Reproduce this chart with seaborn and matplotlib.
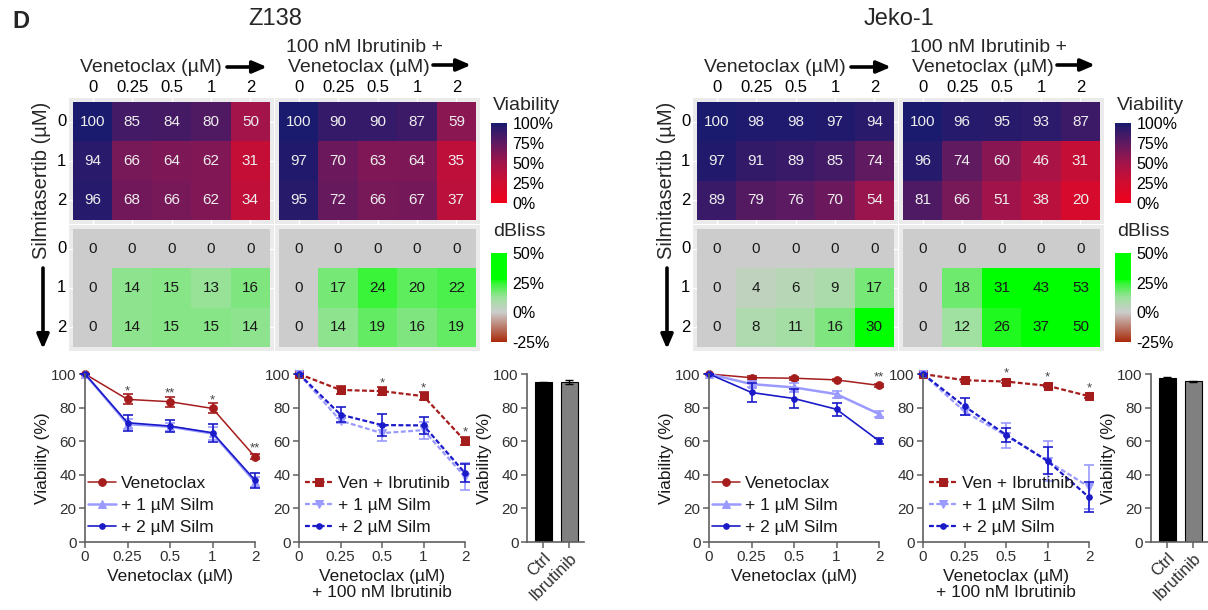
import numpy as np
import matplotlib
matplotlib.use('Agg')
import matplotlib.pyplot as plt
import seaborn as sns
from matplotlib.colors import LinearSegmentedColormap, Normalize
from matplotlib.cm import ScalarMappable

# concentrations and labels
conc_labels = ['0', '0.25', '0.5', '1', '2']
silm_labels = ['0', '1', '2']
bar_labels = ['Ctrl', 'Ibrutinib']

# heatmap values (viability % and delta Bliss %)
z138_via = [[100, 85, 84, 80, 50], [94, 66, 64, 62, 31], [96, 68, 66, 62, 34]]
z138_via_ibr = [[100, 90, 90, 87, 59], [97, 70, 63, 64, 35], [95, 72, 66, 67, 37]]
z138_bliss = [[0, 0, 0, 0, 0], [0, 14, 15, 13, 16], [0, 14, 15, 15, 14]]
z138_bliss_ibr = [[0, 0, 0, 0, 0], [0, 17, 24, 20, 22], [0, 14, 19, 16, 19]]

jeko_via = [[100, 98, 98, 97, 94], [97, 91, 89, 85, 74], [89, 79, 76, 70, 54]]
jeko_via_ibr = [[100, 96, 95, 93, 87], [96, 74, 60, 46, 31], [81, 66, 51, 38, 20]]
jeko_bliss = [[0, 0, 0, 0, 0], [0, 4, 6, 9, 17], [0, 8, 11, 16, 30]]
jeko_bliss_ibr = [[0, 0, 0, 0, 0], [0, 18, 31, 43, 53], [0, 12, 26, 37, 50]]

# dose response curves (mean, sem)
z138_ven = [100, 84.9, 83.5, 79.5, 50.7]
z138_ven_err = [0, 3, 3, 3, 1.5]
z138_ven_s1 = [100, 70.2, 68.6, 64.6, 35.8]
z138_ven_s1_err = [0, 3, 2.5, 4, 3]
z138_ven_s2 = [100, 71, 69, 65, 36.8]
z138_ven_s2_err = [0, 4.8, 3.5, 5.5, 4.5]
z138_ibr = [100, 90.5, 89.8, 86.8, 60.2]
z138_ibr_err = [0, 2.5, 2.5, 2.5, 2.5]
z138_ibr_s1 = [100, 72.2, 64.8, 66.6, 38.8]
z138_ibr_s1_err = [0, 1.5, 4.5, 5, 8]
z138_ibr_s2 = [100, 75.8, 69.6, 69.4, 41]
z138_ibr_s2_err = [0, 4.5, 6.5, 5, 5.5]

jeko_ven = [100, 97.8, 97.5, 96.5, 93.2]
jeko_ven_err = [0, 0.8, 0.8, 0.8, 0.8]
jeko_ven_s1 = [100, 94, 92, 88, 76.2]
jeko_ven_s1_err = [0, 2, 2.5, 2, 1.8]
jeko_ven_s2 = [100, 89, 85.4, 79, 60.2]
jeko_ven_s2_err = [0, 5.8, 5.8, 4, 1.8]
jeko_ibr = [100, 96.3, 95.5, 93, 86.8]
jeko_ibr_err = [0, 0.8, 1, 0.8, 0.8]
jeko_ibr_s1 = [100, 77.7, 63.3, 48.3, 32.8]
jeko_ibr_s1_err = [0, 2, 7.5, 12, 13]
jeko_ibr_s2 = [100, 80.8, 63.8, 48.3, 26.6]
jeko_ibr_s2_err = [0, 5, 4, 8, 9]

# significance marks (Ven alone vs combo)
z138_ven_stars = ['', '*', '**', '*', '**']
z138_ibr_stars = ['', '', '*', '*', '*']
jeko_ven_stars = ['', '', '', '', '**']
jeko_ibr_stars = ['', '', '*', '*', '*']

# single agent bars
z138_bar = [95, 95]
z138_bar_err = [0.4, 1.2]
jeko_bar = [97.8, 95.6]
jeko_bar_err = [0.4, 0.4]

sns.set_style('ticks')
plt.rcParams['font.family'] = ['Liberation Sans', 'DejaVu Sans']

W, H = 1208, 610
fig = plt.figure(figsize=(W / 100, H / 100), dpi=100)


def px_axes(x0, y0, x1, y1):
    return fig.add_axes([x0 / W, 1 - y1 / H, (x1 - x0) / W, (y1 - y0) / H])


via_cmap = LinearSegmentedColormap.from_list('via', [
    (0, '#f0001c'), (0.25, '#d00c30'), (0.5, '#a3144a'),
    (0.75, '#5e1a60'), (1, '#1a1a6e')])
bliss_cmap = LinearSegmentedColormap.from_list('bliss', [
    (0, '#a82a0a'), (25 / 75, '#cccccc'), (37 / 75, '#a0e0a0'),
    (50 / 75, '#33f533'), (53 / 75, '#00ff00'), (1, '#00ff00')])

RED = '#A51C1C'
LIGHT = '#9A9AFF'
BLUE = '#1A1AC8'
AXC = '#606060'
TXC = '#303030'
DASH = (0, (2.2, 1.1))


def heat(ax, data, cmap, vmin, vmax, txt, top, left):
    sns.heatmap(np.array(data, dtype=int), ax=ax, cmap=cmap, vmin=vmin, vmax=vmax,
                cbar=False, annot=True, fmt='d',
                annot_kws={'color': txt, 'fontsize': 11},
                xticklabels=conc_labels if top else False,
                yticklabels=silm_labels if left else False)
    ax.set_facecolor('#EBEBEB')
    ax.set_xlim(-0.1, 5.1)
    ax.set_ylim(3.1, -0.1)
    ax.set_axisbelow(True)
    ax.grid(True, color='white', lw=1)
    ax.xaxis.tick_top()
    ax.tick_params(axis='x', length=0, pad=2, labelsize=12, labelcolor='black', rotation=0)
    ax.tick_params(axis='y', length=0, pad=2, labelsize=12, labelcolor='black', rotation=0)
    ax.set_xlabel('')
    ax.set_ylabel('')


def cbar(x0, y0, x1, y1, cmap, vmin, vmax, ticks):
    cax = px_axes(x0, y0, x1, y1)
    cb = fig.colorbar(ScalarMappable(norm=Normalize(vmin, vmax), cmap=cmap), cax=cax)
    cb.outline.set_visible(False)
    cb.set_ticks(ticks)
    cb.set_ticklabels([f'{t}%' for t in ticks])
    cax.tick_params(direction='in', length=3, width=1, color='white', left=True, right=True,
                    labelsize=11.5, labelcolor='black', pad=4)


def style_axis(ax):
    sns.despine(ax=ax)
    for s in ['left', 'bottom']:
        ax.spines[s].set_color(AXC)
        ax.spines[s].set_linewidth(1.2)
    ax.tick_params(length=4, width=1.1, color=AXC, labelcolor=TXC, labelsize=11, pad=2)
    ax.set_ylim(0, 100)
    ax.set_yticks(range(0, 101, 20))


def dose_plot(ax, series, stars, xlabel, ylabel, leg_x):
    xpos = np.arange(len(conc_labels))
    for label, vals, err, col, mk, ms, ls, lw in series:
        sns.lineplot(x=xpos, y=vals, ax=ax, color=col, marker=mk, markersize=ms,
                     markeredgecolor=col, markerfacecolor=col, linestyle=ls, lw=lw,
                     label=label, errorbar=None, clip_on=False)
        ax.errorbar(xpos, vals, yerr=err, fmt='none', ecolor=col, elinewidth=1.2,
                    capsize=3.5, capthick=1.2, clip_on=False)
    ref = series[0][1]
    for xi, s in enumerate(stars):
        if s:
            ax.text(xi, ref[xi] + 3, s, ha='center', va='baseline', fontsize=9.5, color='#444444')
    style_axis(ax)
    ax.set_xlim(0, 4)
    ax.set_xticks(xpos)
    ax.set_xticklabels(conc_labels)
    ax.set_xlabel(xlabel, fontsize=12.5, color='#1a1a1a', labelpad=3, linespacing=1.1)
    ax.set_ylabel(ylabel, fontsize=12.5, color='#1a1a1a', labelpad=1)
    leg = ax.legend(loc='upper left', bbox_to_anchor=(leg_x, 0.395), frameon=False, fontsize=12.5,
                    handlelength=1.6, handletextpad=0.3, labelspacing=0.4,
                    borderpad=0, borderaxespad=0)
    for t in leg.get_texts():
        t.set_color('#1a1a1a')


def bar_plot(ax, vals, err):
    sns.barplot(x=bar_labels, y=vals, hue=bar_labels, palette=['black', '#808080'],
                width=0.65, ax=ax, legend=False, edgecolor='black', linewidth=0.8)
    ax.errorbar(range(2), vals, yerr=err, fmt='none', ecolor='black', elinewidth=1,
                capsize=3, capthick=1)
    style_axis(ax)
    ax.set_xlim(-0.63, 1.56)
    ax.set_xticks(range(2))
    ax.set_xticklabels(bar_labels, rotation=45, ha='right', rotation_mode='anchor', fontsize=12)
    ax.set_ylabel('Viability (%)', fontsize=12.5, color='#1a1a1a', labelpad=1)
    ax.set_xlabel('')


groups = [
    (0, 'Z138', z138_via, z138_via_ibr, z138_bliss, z138_bliss_ibr,
     [('Venetoclax', z138_ven, z138_ven_err, RED, 'o', 5.5, '-', 1.1),
      ('+ 1 µM Silm', z138_ven_s1, z138_ven_s1_err, LIGHT, '^', 6, '-', 1.8),
      ('+ 2 µM Silm', z138_ven_s2, z138_ven_s2_err, BLUE, 'o', 4, '-', 1.2)],
     [('Ven + Ibrutinib', z138_ibr, z138_ibr_err, RED, 's', 6, DASH, 1.6),
      ('+ 1 µM Silm', z138_ibr_s1, z138_ibr_s1_err, LIGHT, 'v', 6, DASH, 1.6),
      ('+ 2 µM Silm', z138_ibr_s2, z138_ibr_s2_err, BLUE, 'o', 4, DASH, 1.6)],
     z138_ven_stars, z138_ibr_stars, z138_bar, z138_bar_err),
    (624, 'Jeko-1', jeko_via, jeko_via_ibr, jeko_bliss, jeko_bliss_ibr,
     [('Venetoclax', jeko_ven, jeko_ven_err, RED, 'o', 5.5, '-', 1.1),
      ('+ 1 µM Silm', jeko_ven_s1, jeko_ven_s1_err, LIGHT, '^', 6, '-', 1.8),
      ('+ 2 µM Silm', jeko_ven_s2, jeko_ven_s2_err, BLUE, 'o', 4, '-', 1.2)],
     [('Ven + Ibrutinib', jeko_ibr, jeko_ibr_err, RED, 's', 6, DASH, 1.6),
      ('+ 1 µM Silm', jeko_ibr_s1, jeko_ibr_s1_err, LIGHT, 'v', 6, DASH, 1.6),
      ('+ 2 µM Silm', jeko_ibr_s2, jeko_ibr_s2_err, BLUE, 'o', 4, DASH, 1.6)],
     jeko_ven_stars, jeko_ibr_stars, jeko_bar, jeko_bar_err),
]

ov = fig.add_axes([0, 0, 1, 1])
ov.set_xlim(0, W)
ov.set_ylim(H, 0)
ov.axis('off')
ov.text(12, 22, 'D', fontsize=17, fontweight='bold', va='center')

arrow = dict(arrowstyle='-|>,head_length=0.7,head_width=0.3', lw=2.6, color='black',
             shrinkA=0, shrinkB=0, mutation_scale=12)

for dx, title, via, via_ibr, bl, bl_ibr, s_ven, s_ibr, st_ven, st_ibr, bars, bars_err in groups:
    # heatmaps
    heat(px_axes(69 + dx, 98, 274 + dx, 224), via, via_cmap, 0, 100, '#eeeeee', True, True)
    heat(px_axes(275 + dx, 98, 480 + dx, 224), via_ibr, via_cmap, 0, 100, '#eeeeee', True, False)
    heat(px_axes(69 + dx, 225, 274 + dx, 351), bl, bliss_cmap, -25, 50, '#1a1a1a', False, True)
    heat(px_axes(275 + dx, 225, 480 + dx, 351), bl_ibr, bliss_cmap, -25, 50, '#1a1a1a', False, False)
    cbar(491 + dx, 123, 507 + dx, 203, via_cmap, 0, 100, [0, 25, 50, 75, 100])
    cbar(491 + dx, 253, 507 + dx, 342, bliss_cmap, -25, 50, [-25, 0, 25, 50])

    # headers
    ov.text(275 + dx, 19, title, fontsize=17, ha='center', va='center')
    ov.text(151 + dx, 68, 'Venetoclax (µM)', fontsize=14, ha='center', va='center')
    ov.annotate('', xy=(267 + dx, 67), xytext=(227 + dx, 67), arrowprops=arrow)
    ov.text(364 + dx, 47, '100 nM Ibrutinib +', fontsize=14, ha='center', va='center')
    ov.text(359 + dx, 68, 'Venetoclax (µM)', fontsize=14, ha='center', va='center')
    ov.annotate('', xy=(471 + dx, 65), xytext=(433 + dx, 65), arrowprops=arrow)
    ov.text(42 + dx, 180, 'Silmitasertib (µM)', fontsize=14.5, rotation=90, ha='center', va='center')
    ov.annotate('', xy=(43 + dx, 349), xytext=(43 + dx, 268), arrowprops=arrow)
    ov.text(493 + dx, 105, 'Viability', fontsize=14, ha='left', va='center')
    ov.text(493 + dx, 232, 'dBliss', fontsize=14, ha='left', va='center')

    # dose response and bars
    dose_plot(px_axes(85 + dx, 374, 255 + dx, 542), s_ven, st_ven, 'Venetoclax (µM)',
              'Viability (%)', 0.018)
    dose_plot(px_axes(299 + dx, 374, 465 + dx, 542), s_ibr, st_ibr,
              'Venetoclax (µM)\n+ 100 nM Ibrutinib', '', 0.036)
    bar_plot(px_axes(527 + dx, 374, 584 + dx, 542), bars, bars_err)

fig.savefig('out.png', dpi=100)
